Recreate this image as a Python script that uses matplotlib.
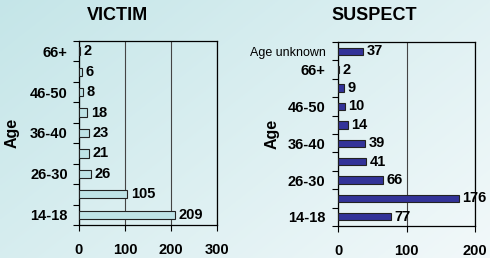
import numpy as np
import matplotlib
matplotlib.use('Agg')
import matplotlib.pyplot as plt

plt.rcParams['font.family'] = ['Liberation Sans', 'DejaVu Sans']

# Victim ages (bottom to top)
victim_ages = ['14-18', '19-25', '26-30', '31-35', '36-40', '41-45', '46-50', '51-65', '66+']
victim_counts = [209, 105, 26, 21, 23, 18, 8, 6, 2]
victim_shown = ['14-18', '26-30', '36-40', '46-50', '66+']

# Suspect ages (bottom to top)
suspect_ages = ['14-18', '19-25', '26-30', '31-35', '36-40', '41-45', '46-50', '51-65', '66+', 'Age unknown']
suspect_counts = [77, 176, 66, 41, 39, 14, 10, 9, 2, 37]
suspect_shown = ['14-18', '26-30', '36-40', '46-50', '66+', 'Age unknown']

fig = plt.figure(figsize=(4.9, 2.58), dpi=100)

# gradient background, darker top-left, lighter bottom-right
bg = fig.add_axes([0, 0, 1, 1], zorder=-10)
xx, yy = np.meshgrid(np.linspace(0, 1, 200), np.linspace(0, 1, 200))
t = np.clip(xx * 0.6 + yy * 0.4, 0, 1)
c0 = np.array([0.77, 0.90, 0.91])
c1 = np.array([0.95, 0.975, 0.98])
img = c0[None, None, :] * (1 - t[..., None]) + c1[None, None, :] * t[..., None]
bg.imshow(img, aspect='auto', extent=[0, 1, 0, 1], origin='upper')
bg.axis('off')


def draw(ax, ages, counts, shown, xmax, step, color, title, title_x, ypad):
    y = np.arange(len(ages))
    ax.set_facecolor('none')
    ax.barh(y, counts, height=0.4, color=color, edgecolor='#222222', linewidth=0.8, zorder=3)
    for yi, v in zip(y, counts):
        ax.text(v + xmax * 0.025, yi, str(v), va='center', ha='left',
                fontsize=10.5, fontweight='bold', zorder=4)
    ax.set_xlim(0, xmax)
    ax.set_ylim(-0.5, len(ages) - 0.5)
    ax.set_xticks(np.arange(0, xmax + 1, step))
    ax.xaxis.grid(True, color='#444444', linewidth=0.8, zorder=1)
    ax.tick_params(axis='x', direction='out', length=4, width=0.8, pad=9, labelsize=10.5)
    for lab in ax.get_xticklabels():
        lab.set_fontweight('bold')
    ax.set_yticks(y)
    ax.set_yticklabels([a if a in shown else '' for a in ages])
    ax.tick_params(axis='y', which='major', length=0, pad=ypad, labelsize=10.5)
    for lab in ax.get_yticklabels():
        if lab.get_text() == 'Age unknown':
            lab.set_fontweight('normal')
            lab.set_fontsize(9)
        else:
            lab.set_fontweight('bold')
    ax.set_yticks(np.arange(-0.5, len(ages), 1.0), minor=True)
    ax.tick_params(axis='y', which='minor', direction='out', length=4, width=0.8)
    for s in ax.spines.values():
        s.set_color('black')
        s.set_linewidth(0.9)
    ax.set_ylabel('Age', fontsize=11.5, fontweight='bold')
    ax.yaxis.set_label_coords(-0.43, 0.5)
    fig.text(title_x, 0.94, title, ha='center', va='center', fontsize=13, fontweight='bold')


ax1 = fig.add_axes([0.161, 0.128, 0.282, 0.713])
draw(ax1, victim_ages, victim_counts, victim_shown, 300, 100, '#bfe3e6', 'VICTIM', 0.239, 8)

ax2 = fig.add_axes([0.690, 0.124, 0.280, 0.713])
draw(ax2, suspect_ages, suspect_counts, suspect_shown, 200, 100, '#333399', 'SUSPECT', 0.763, 9)

fig.savefig('out.png', dpi=100)
